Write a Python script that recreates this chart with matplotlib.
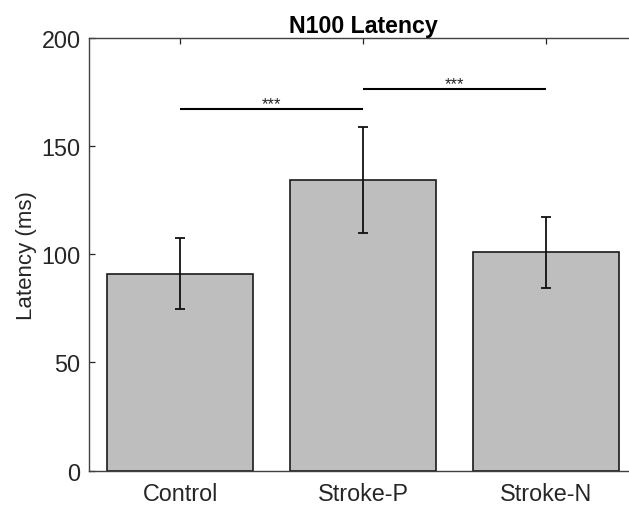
import matplotlib
matplotlib.use("Agg")
import matplotlib.pyplot as plt
import numpy as np

categories = ["Control", "Stroke-P", "Stroke-N"]
means = [91.0, 134.3, 100.9]
errors = [16.4, 24.4, 16.4]
sig_pairs = [(0, 1), (1, 2)]
sig_heights = [167.0, 176.3]
sig_labels = ["***", "***"]
yticks = [0, 50, 100, 150, 200]

plt.rcParams['font.family'] = ['Liberation Sans', 'DejaVu Sans']

fig = plt.figure(figsize=(6.29, 5.06), dpi=100)
ax = fig.add_axes([89/629, 1 - 471.7/506, 548/629, 433/506])

x = np.arange(len(categories))
ax.bar(x, means, width=0.8, color='#bebebe', edgecolor='#1a1a1a', linewidth=1.2, zorder=2)
ax.errorbar(x, means, yerr=errors, fmt='none', ecolor='#111111', elinewidth=1.3,
            capsize=3.4, capthick=1.3, zorder=3)

for (a, b), h, lab in zip(sig_pairs, sig_heights, sig_labels):
    ax.plot([x[a], x[b]], [h, h], color='black', linewidth=1.5, solid_capstyle='butt', zorder=3)
    ax.text((x[a] + x[b]) / 2, h + 0.6, lab, ha='center', va='baseline', fontsize=12, color='#222222')

ax.set_xlim(-0.5, 2.5)
ax.set_ylim(0, 200)
ax.set_xticks(x)
ax.set_xticklabels(categories)
ax.set_yticks(yticks)
ax.tick_params(axis='both', direction='in', length=4.5, width=0.9, colors='#262626', labelsize=16.8)
ax.tick_params(axis='x', top=True, pad=8)
ax.tick_params(axis='y', right=True, pad=6)
for s in ax.spines.values():
    s.set_color('#404040')
    s.set_linewidth(1.0)

ax.set_ylabel("Latency (ms)", fontsize=16, color='#262626', labelpad=3)
ax.set_title("N100 Latency", fontsize=16.7, fontweight='bold', pad=4)

fig.savefig("out.png", dpi=100)
